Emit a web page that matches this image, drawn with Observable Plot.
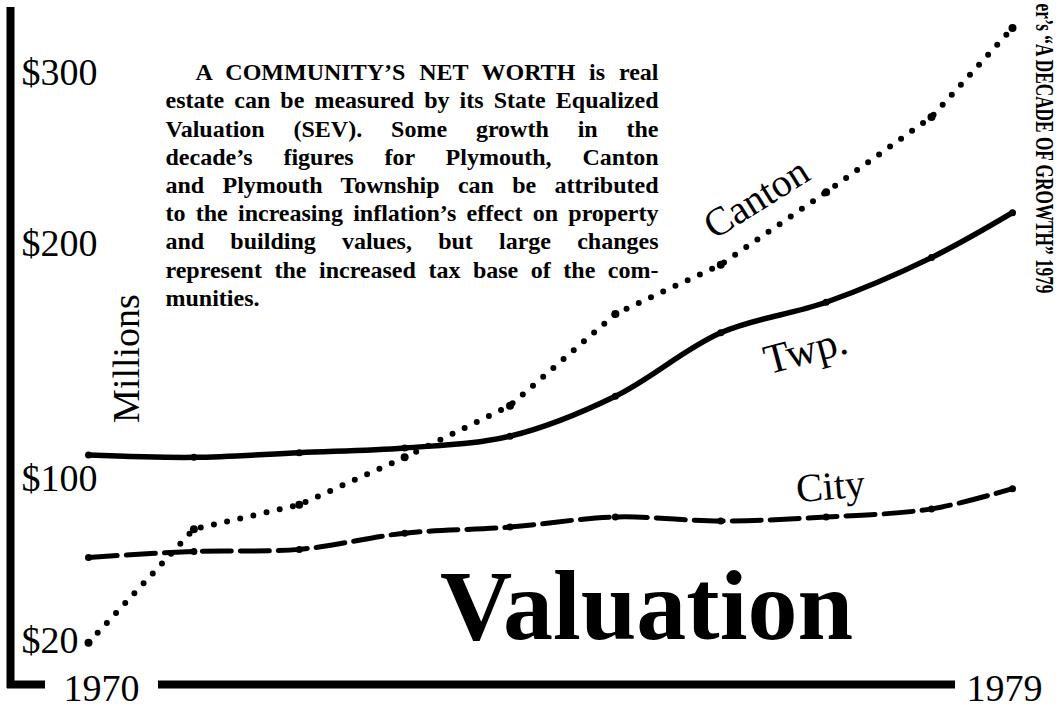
<!DOCTYPE html>
<html><head><meta charset="utf-8">
<script src="https://cdn.jsdelivr.net/npm/d3@7"></script>
<script src="https://cdn.jsdelivr.net/npm/@observablehq/plot@0.6"></script>
<style>
html,body{margin:0;padding:0;background:#fff;}
#chart svg{display:block;}
</style></head>
<body><div id="chart"></div>
<script>
// ---- data (SEV, $ millions) ----
const years  = [1970, 1971, 1972, 1973, 1974, 1975, 1976, 1977, 1978, 1979];
const canton = [19, 75, 87, 109, 131, 170, 191, 230, 274, 326];
const twp    = [110, 109, 111, 113, 118, 135, 162, 175, 194, 218];
const city   = [61, 64, 65, 73, 76, 81, 79, 81, 85, 95];
const yTicks = [300, 200, 100, 20];
const xTicks = [1970, 1979];
const noteLines = [
  "A COMMUNITY\u2019S NET WORTH is real",
  "estate can be measured by its State Equalized",
  "Valuation (SEV). Some growth in the",
  "decade\u2019s figures for Plymouth, Canton",
  "and Plymouth Township can be attributed",
  "to the increasing inflation\u2019s effect on property",
  "and building values, but large changes",
  "represent the increased tax base of the com-",
  "munities."
];
const credit = "er\u2019s \u201CA DECADE OF GROWTH\u201D 1979";

const rows = s => years.map((year, i) => ({year, value: s[i]}));
const cantonRows = rows(canton), twpRows = rows(twp), cityRows = rows(city);

const serif = "'Liberation Serif', 'Times New Roman', serif";
const label = (t, o) => Plot.text([t], {text: d => d, frameAnchor: "top-left", textAnchor: "middle", lineAnchor: "middle", fontFamily: serif, ...o});

const noteMarks = noteLines.map((t, i) => label(t, {
  dx: i === 0 ? 195 : 165, dy: 72 + i * 28.2,
  textAnchor: "start", fontSize: 24, fontWeight: "bold"
}));

const svg = Plot.plot({
  width: 1062, height: 714, margin: 0,
  x: {type: "linear", domain: [1970, 1978, 1979], range: [88, 931, 1012], axis: null},
  y: {type: "linear", domain: [0, 20, 100, 200, 300], range: [684, 640, 478, 243, 72], axis: null},
  style: {background: "#fff", color: "#000", fontFamily: serif},
  marks: [
    // axes (thick hand-set rules)
    Plot.ruleX([xTicks[0]], {x: d => d, dx: -78, insetTop: 7, insetBottom: 26, strokeWidth: 8, stroke: "black"}),
    Plot.ruleY([0], {y: d => d, insetLeft: 7, insetRight: 1062 - 45, strokeWidth: 8, stroke: "black"}),
    Plot.ruleY([0], {y: d => d, insetLeft: 158, insetRight: 1062 - 955, strokeWidth: 8, stroke: "black"}),
    // tick labels
    Plot.text(yTicks, {y: d => d, text: d => "$" + d, frameAnchor: "left", dx: 21, textAnchor: "start", lineAnchor: "middle", fontSize: 38, fontFamily: serif}),
    Plot.text([xTicks[0]], {x: d => d, y: () => 0, text: d => String(d), dx: 13, dy: 4, lineAnchor: "middle", fontSize: 38, fontFamily: serif}),
    Plot.text([xTicks[1]], {x: d => d, y: () => 0, text: d => String(d), dx: -8, dy: 4, lineAnchor: "middle", fontSize: 38, fontFamily: serif}),
    label("Millions", {dx: 126, dy: 358, rotate: -90, fontSize: 38}),
    // series
    Plot.line(cantonRows, {x: "year", y: "value", stroke: "black", strokeWidth: 6, strokeDasharray: "0 13.5", strokeLinecap: "round", curve: "linear"}),
    Plot.dot(cantonRows, {x: "year", y: "value", r: 4, fill: "black"}),
    Plot.line(twpRows, {x: "year", y: "value", stroke: "black", strokeWidth: 5.5, curve: "catmull-rom"}),
    Plot.dot(twpRows, {x: "year", y: "value", r: 3.5, fill: "black"}),
    Plot.line(cityRows, {x: "year", y: "value", stroke: "black", strokeWidth: 5, strokeDasharray: "29 9", curve: "catmull-rom"}),
    Plot.dot(cityRows, {x: "year", y: "value", r: 3.5, fill: "black"}),
    // series labels
    label("Canton", {dx: 756, dy: 198, rotate: -32, fontSize: 40}),
    label("Twp.", {dx: 805, dy: 350, rotate: -15, fontSize: 42}),
    label("City", {dx: 830, dy: 486, rotate: -5, fontSize: 40}),
    // title and note
    label("Valuation", {dx: 646, dy: 606, fontSize: 100, fontWeight: "bold"}),
    ...noteMarks,
    label(credit, {dx: 1044, dy: 3, rotate: 90, textAnchor: "start", fontSize: 26, fontWeight: "bold"})
  ]
});
document.getElementById("chart").append(svg);

// justify the note lines and condense the credit line
svg.querySelectorAll("text").forEach(t => {
  const s = t.textContent;
  const i = noteLines.indexOf(s);
  if (i >= 0 && i < noteLines.length - 1) {
    const want = 658 - (i === 0 ? 195 : 165);
    const len = t.getComputedTextLength();
    const spaces = (s.match(/ /g) || []).length;
    if (spaces > 0 && want > len) {
      t.style.wordSpacing = ((want - len) / spaces) + "px";
      const after = t.getComputedTextLength();
      if (Math.abs(after - len) < 1) {
        t.style.wordSpacing = "";
        t.setAttribute("textLength", want);
        t.setAttribute("lengthAdjust", "spacing");
      }
    }
  } else if (s === credit) {
    t.setAttribute("textLength", 290);
    t.setAttribute("lengthAdjust", "spacingAndGlyphs");
  }
});
</script>
</body></html>
